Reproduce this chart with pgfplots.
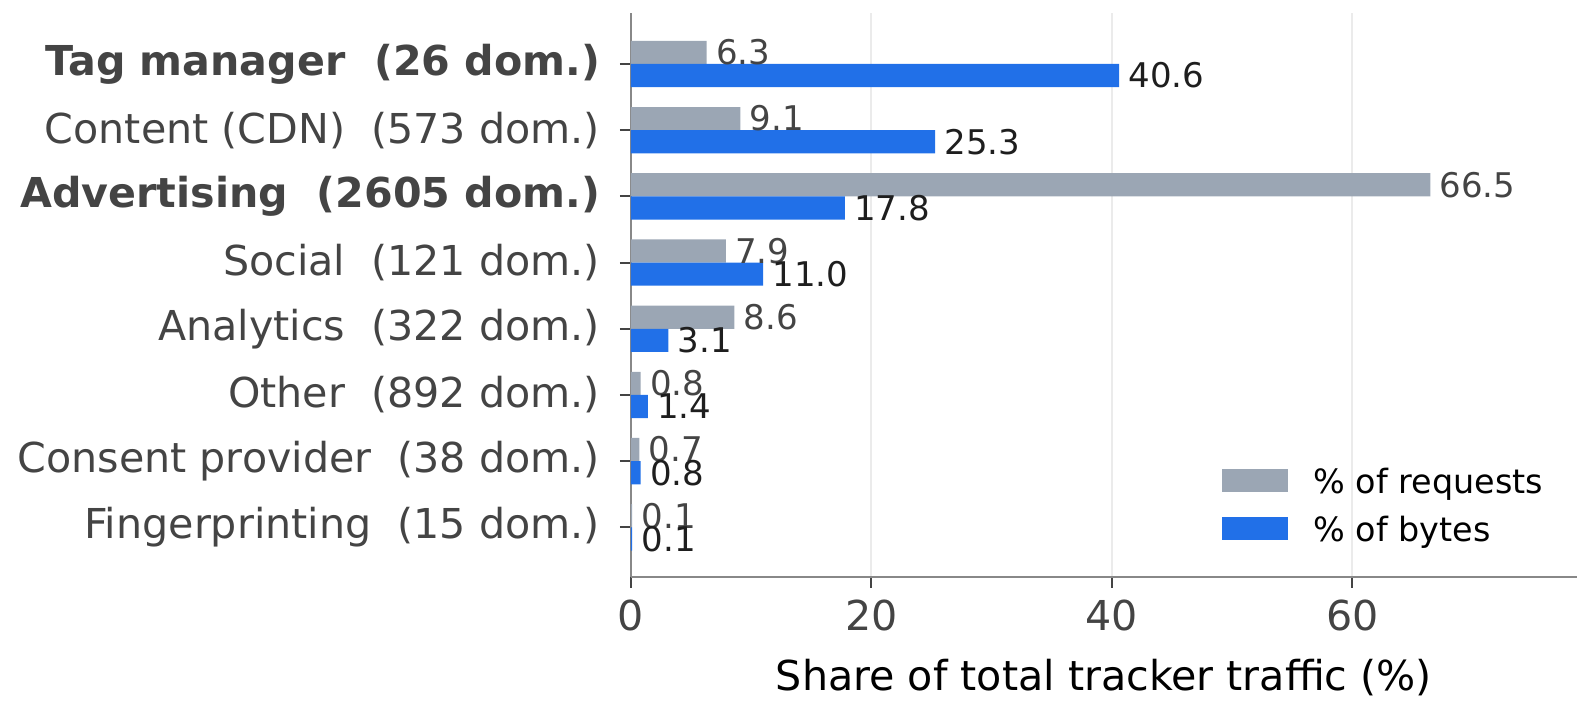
\documentclass[border=0pt]{standalone}
\usepackage{pgfplots}
\pgfplotsset{compat=1.18}
\usepackage{fontspec}
\setmainfont{DejaVu Sans}

\definecolor{reqgray}{RGB}{155,166,180}
\definecolor{bytesblue}{RGB}{33,112,232}
\definecolor{labelgray}{RGB}{68,68,68}
\definecolor{bytetext}{RGB}{30,30,30}
\definecolor{spinegray}{RGB}{136,136,136}
\definecolor{gridgray}{RGB}{235,235,235}
\newcommand{\bigfont}{\fontsize{20.6}{24}\selectfont}
\newcommand{\valfont}{\fontsize{17}{20}\selectfont}
\newcommand{\legfont}{\fontsize{16.7}{20}\selectfont}

\begin{document}
\begin{tikzpicture}
\useasboundingbox (-315.5pt,-70pt) rectangle (480pt,288.5pt);
\begin{axis}[
  at={(0,0)}, anchor=south west,
  scale only axis, width=473pt, height=282pt,
  xbar, bar width=0.35,
  xmin=0, xmax=78.7, ymin=-0.75, ymax=7.77,
  axis x line*=bottom, axis y line*=left,
  axis line style={spinegray, line width=1.3pt, -},
  xtick={0,20,40,60}, ytick={0,...,7},
  yticklabels={
    Fingerprinting\ \ (15 dom.),
    Consent provider\ \ (38 dom.),
    Other\ \ (892 dom.),
    Analytics\ \ (322 dom.),
    Social\ \ (121 dom.),
    \textbf{Advertising\ \ (2605 dom.)},
    Content (CDN)\ \ (573 dom.),
    \textbf{Tag manager\ \ (26 dom.)}},
  tick align=outside, major tick length=5.5pt,
  tick style={labelgray, line width=1pt},
  xmajorgrids, grid style={gridgray, line width=1pt},
  ticklabel style={font=\bigfont, text=labelgray},
  yticklabel style={xshift=-6.5pt},
  xticklabel style={yshift=-2.5pt},
  /pgf/number format/assume math mode=true,
  xlabel={Share of total tracker traffic (\%)},
  xlabel style={font=\bigfont, text=black, at={(axis description cs:0.5,0)}, anchor=base, yshift=-56.5pt},
  point meta=x,
  nodes near coords={\pgfmathprintnumber[fixed,fixed zerofill,precision=1,assume math mode=true]{\pgfplotspointmeta}},
  nodes near coords align={horizontal},
  legend cell align=left,
  legend style={draw=none, fill=none, font=\legfont, text=black,
    at={(0.964,0.035)}, anchor=south east, inner sep=0pt, outer sep=0pt,
    column sep=12.5pt, row sep=0pt,
    nodes={inner xsep=0pt, inner ysep=4pt, text height=12pt, text depth=4pt}},
]
% share of requests
\addplot[fill=reqgray, draw=none, bar shift=0.175,
  every node near coord/.append style={text=labelgray, font=\valfont, inner xsep=4.5pt},
  legend image code/.code={\fill[reqgray] (0pt,-3.5pt) rectangle (33pt,8pt);}]
  coordinates {(0.1,0) (0.7,1) (0.8,2) (8.6,3) (7.9,4) (66.5,5) (9.1,6) (6.3,7)};
% share of bytes
\addplot[fill=bytesblue, draw=none, bar shift=-0.175,
  every node near coord/.append style={text=bytetext, font=\valfont, inner xsep=4.5pt},
  legend image code/.code={\fill[bytesblue] (0pt,-3.5pt) rectangle (33pt,8pt);}]
  coordinates {(0.1,0) (0.8,1) (1.4,2) (3.1,3) (11.0,4) (17.8,5) (25.3,6) (40.6,7)};
\legend{\% of requests, \% of bytes}
\end{axis}
\end{tikzpicture}
\end{document}
